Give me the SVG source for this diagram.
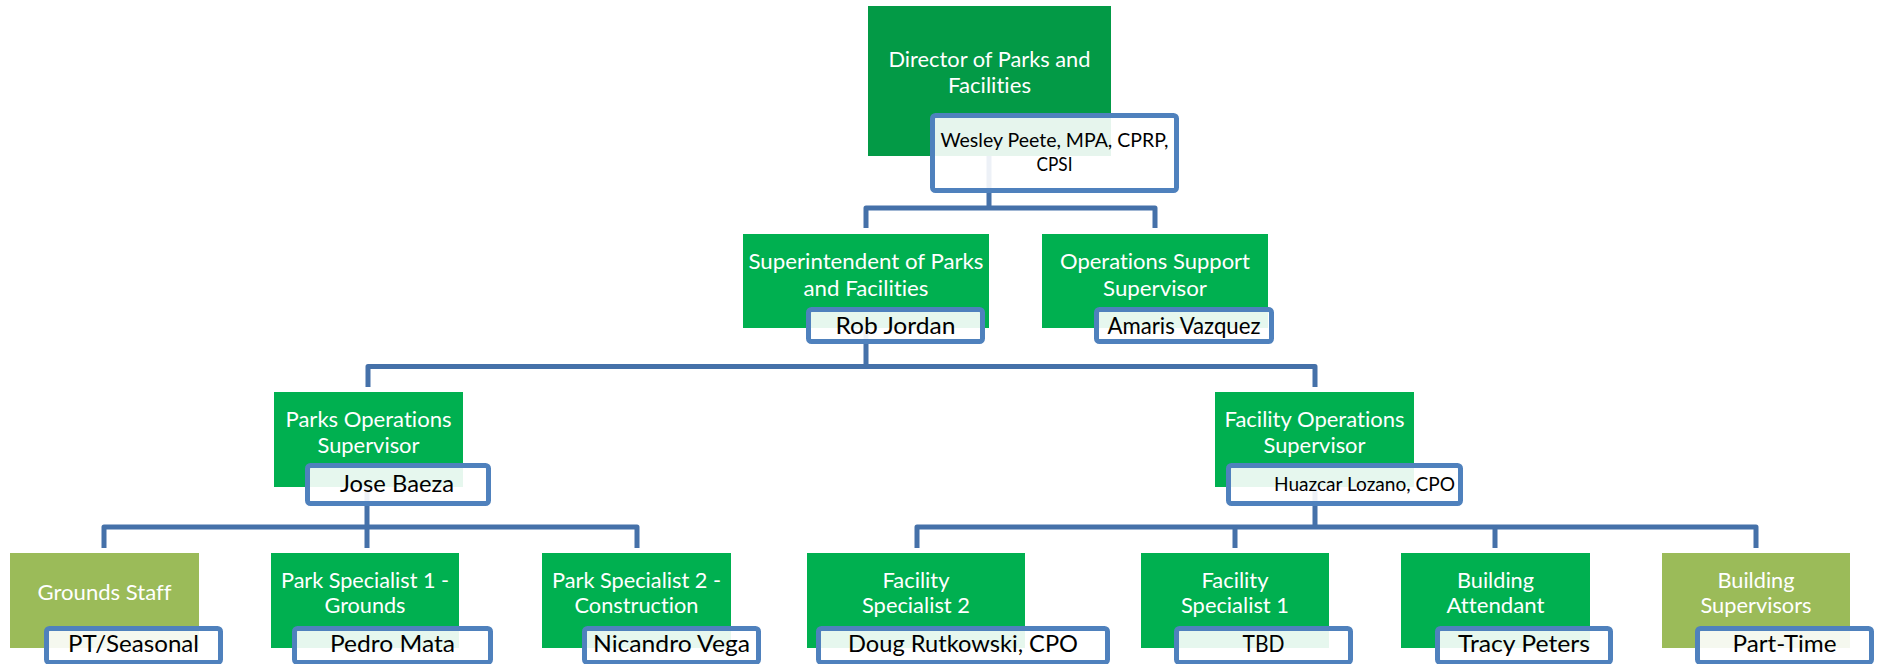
<svg xmlns="http://www.w3.org/2000/svg" width="1879" height="664" viewBox="0 0 1879 664">
<style>
text{font-variant-ligatures:none;font-feature-settings:"liga" 0,"clig" 0,"dlig" 0}
.title{font-family:Lato,"Liberation Sans",sans-serif;font-size:21px;fill:#ffffff;text-anchor:middle}
.name{font-family:Lato,"Liberation Sans",sans-serif;font-size:23px;fill:#000000;text-anchor:middle}
.small{font-size:19.5px}
.g{fill:#00B050}
.dg{fill:#039A46}
.ol{fill:#9BBB59}
.nb{fill:#ffffff;fill-opacity:0.9;stroke:#4F81BD;stroke-width:5}
.conn{fill:none;stroke:#4571A9;stroke-width:5;stroke-linejoin:round}
</style>
<rect width="1879" height="664" fill="#ffffff"/>
<g id="connectors">
<path class="conn" d="M866,228 V208 H1155 V228 M989,156 V208"/>
<path class="conn" d="M368,387 V366.5 H1315 V387 M866,328 V366.5"/>
<path class="conn" d="M104,548 V527 H637 V548 M367,487 V548"/>
<path class="conn" d="M917,548 V527 H1756 V548 M1315,487 V527 M1235,527 V548 M1495,527 V548"/>
</g>
<g id="director">
<rect class="dg" x="868" y="6" width="243" height="150"/>
<text class="title" x="989.5" y="67" textLength="202" lengthAdjust="spacingAndGlyphs">Director of Parks and</text>
<text class="title" x="989.5" y="93" textLength="83" lengthAdjust="spacingAndGlyphs">Facilities</text>
<rect class="nb" x="932.5" y="115.5" width="244" height="75" rx="3"/>
<text class="name small" x="1054.5" y="147" textLength="228" lengthAdjust="spacingAndGlyphs">Wesley Peete, MPA, CPRP,</text>
<text class="name small" x="1054.5" y="171" textLength="36" lengthAdjust="spacingAndGlyphs">CPSI</text>
</g>
<g id="superintendent">
<rect class="g" x="743" y="234" width="246" height="94"/>
<text class="title" x="866" y="269" textLength="235" lengthAdjust="spacingAndGlyphs">Superintendent of Parks</text>
<text class="title" x="866" y="296" textLength="125" lengthAdjust="spacingAndGlyphs">and Facilities</text>
<rect class="nb" x="808.5" y="309.5" width="174" height="32" rx="3"/>
<text class="name" x="895.5" y="334" textLength="120" lengthAdjust="spacingAndGlyphs">Rob Jordan</text>
</g>
<g id="ops-support">
<rect class="g" x="1042" y="234" width="226" height="94"/>
<text class="title" x="1155" y="269" textLength="190" lengthAdjust="spacingAndGlyphs">Operations Support</text>
<text class="title" x="1155" y="296" textLength="104" lengthAdjust="spacingAndGlyphs">Supervisor</text>
<rect class="nb" x="1096.5" y="309.5" width="175" height="32" rx="3"/>
<text class="name" x="1184" y="334" textLength="153" lengthAdjust="spacingAndGlyphs">Amaris Vazquez</text>
</g>
<g id="parks-ops">
<rect class="g" x="274" y="392" width="189" height="95"/>
<text class="title" x="368.5" y="427" textLength="166" lengthAdjust="spacingAndGlyphs">Parks Operations</text>
<text class="title" x="368.5" y="453" textLength="102" lengthAdjust="spacingAndGlyphs">Supervisor</text>
<rect class="nb" x="307.5" y="465.5" width="181" height="38" rx="3"/>
<text class="name" x="397" y="492" textLength="114" lengthAdjust="spacingAndGlyphs">Jose Baeza</text>
</g>
<g id="facility-ops">
<rect class="g" x="1215" y="392" width="199" height="95"/>
<text class="title" x="1314.5" y="427" textLength="180" lengthAdjust="spacingAndGlyphs">Facility Operations</text>
<text class="title" x="1314.5" y="453" textLength="102" lengthAdjust="spacingAndGlyphs">Supervisor</text>
<rect class="nb" x="1228.5" y="465.5" width="232" height="38" rx="3"/>
<text class="name small" x="1364.5" y="491" textLength="181" lengthAdjust="spacingAndGlyphs">Huazcar Lozano, CPO</text>
</g>
<g id="grounds-staff">
<rect class="ol" x="10" y="553" width="189" height="95"/>
<text class="title" x="104.5" y="600" textLength="134" lengthAdjust="spacingAndGlyphs">Grounds Staff</text>
<rect class="nb" x="46.5" y="628.5" width="174" height="34" rx="3"/>
<text class="name" x="133.5" y="652" textLength="131" lengthAdjust="spacingAndGlyphs">PT/Seasonal</text>
</g>
<g id="park-specialist-1">
<rect class="g" x="271" y="553" width="188" height="95"/>
<text class="title" x="365" y="588" textLength="168" lengthAdjust="spacingAndGlyphs">Park Specialist 1 -</text>
<text class="title" x="365" y="613" textLength="81" lengthAdjust="spacingAndGlyphs">Grounds</text>
<rect class="nb" x="294.5" y="628.5" width="196" height="34" rx="3"/>
<text class="name" x="392.5" y="652" textLength="125" lengthAdjust="spacingAndGlyphs">Pedro Mata</text>
</g>
<g id="park-specialist-2">
<rect class="g" x="542" y="553" width="189" height="95"/>
<text class="title" x="636.5" y="588" textLength="169" lengthAdjust="spacingAndGlyphs">Park Specialist 2 -</text>
<text class="title" x="636.5" y="613" textLength="124" lengthAdjust="spacingAndGlyphs">Construction</text>
<rect class="nb" x="584.5" y="628.5" width="174" height="34" rx="3"/>
<text class="name" x="671.5" y="652" textLength="157" lengthAdjust="spacingAndGlyphs">Nicandro Vega</text>
</g>
<g id="facility-specialist-2">
<rect class="g" x="807" y="553" width="218" height="95"/>
<text class="title" x="916" y="588" textLength="67" lengthAdjust="spacingAndGlyphs">Facility</text>
<text class="title" x="916" y="613" textLength="108" lengthAdjust="spacingAndGlyphs">Specialist 2</text>
<rect class="nb" x="818.5" y="628.5" width="289" height="34" rx="3"/>
<text class="name" x="963" y="652" textLength="230" lengthAdjust="spacingAndGlyphs">Doug Rutkowski, CPO</text>
</g>
<g id="facility-specialist-1">
<rect class="g" x="1141" y="553" width="188" height="95"/>
<text class="title" x="1235" y="588" textLength="67" lengthAdjust="spacingAndGlyphs">Facility</text>
<text class="title" x="1235" y="613" textLength="108" lengthAdjust="spacingAndGlyphs">Specialist 1</text>
<rect class="nb" x="1176.5" y="628.5" width="174" height="34" rx="3"/>
<text class="name" x="1263.5" y="652" textLength="42" lengthAdjust="spacingAndGlyphs">TBD</text>
</g>
<g id="building-attendant">
<rect class="g" x="1401" y="553" width="189" height="95"/>
<text class="title" x="1495.5" y="588" textLength="77" lengthAdjust="spacingAndGlyphs">Building</text>
<text class="title" x="1495.5" y="613" textLength="98" lengthAdjust="spacingAndGlyphs">Attendant</text>
<rect class="nb" x="1437.5" y="628.5" width="173" height="34" rx="3"/>
<text class="name" x="1524" y="652" textLength="132" lengthAdjust="spacingAndGlyphs">Tracy Peters</text>
</g>
<g id="building-supervisors">
<rect class="ol" x="1662" y="553" width="188" height="95"/>
<text class="title" x="1756" y="588" textLength="77" lengthAdjust="spacingAndGlyphs">Building</text>
<text class="title" x="1756" y="613" textLength="111" lengthAdjust="spacingAndGlyphs">Supervisors</text>
<rect class="nb" x="1697.5" y="628.5" width="174" height="34" rx="3"/>
<text class="name" x="1784.5" y="652" textLength="104" lengthAdjust="spacingAndGlyphs">Part-Time</text>
</g>
</svg>
